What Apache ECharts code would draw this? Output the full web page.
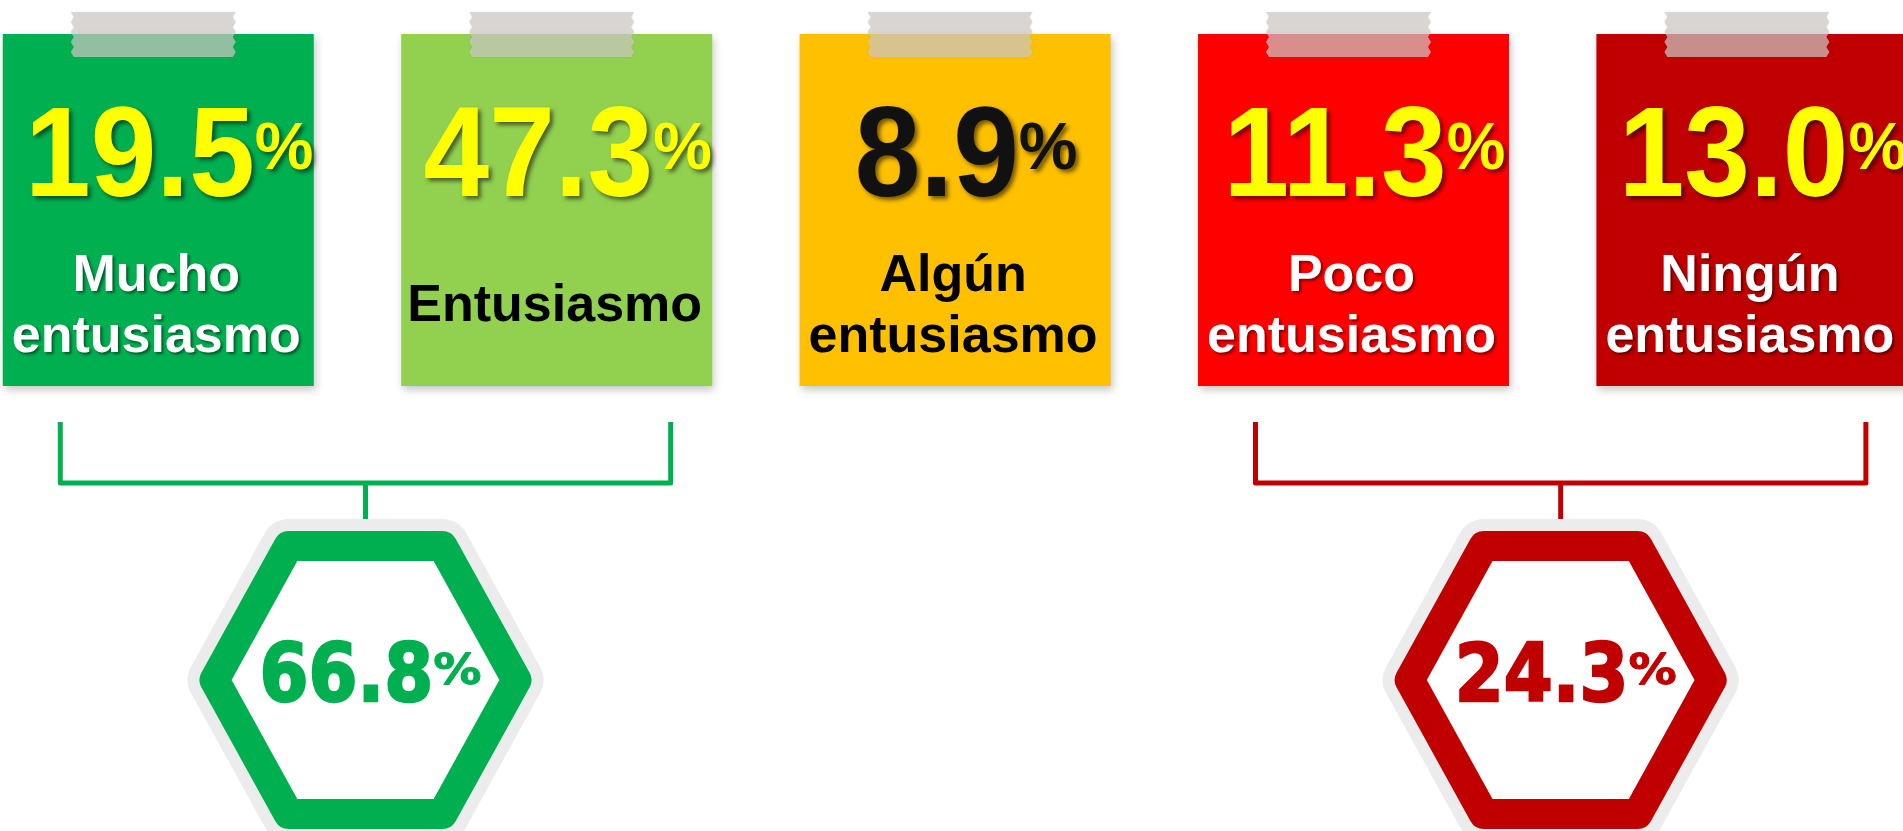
<!DOCTYPE html>
<html>
<head>
<meta charset="utf-8">
<title>Entusiasmo</title>
<script src="https://cdn.jsdelivr.net/npm/echarts@6/dist/echarts.min.js"></script>
<style>
    html, body { margin: 0; padding: 0; background: #fff; }
    #main { width: 1903px; height: 831px; }
</style>
</head>
<body>
<div id="main"></div>
<script>
// datos
const categories = ['Mucho entusiasmo', 'Entusiasmo', 'Algún entusiasmo', 'Poco entusiasmo', 'Ningún entusiasmo'];
const labelLines = [['Mucho', 'entusiasmo'], ['Entusiasmo'], ['Algún', 'entusiasmo'], ['Poco', 'entusiasmo'], ['Ningún', 'entusiasmo']];
const values = [19.5, 47.3, 8.9, 11.3, 13.0];
const groupFirst = [0, 3];
const groupLast = [1, 4];
const groupTotals = [66.8, 24.3];

// colores
const cardColors = ['#00b050', '#92d050', '#ffc000', '#ff0000', '#c00000'];
const numberColors = ['#ffff00', '#ffff00', '#111111', '#ffff00', '#ffff00'];
const labelColors = ['#ffffff', '#000000', '#000000', '#ffffff', '#ffffff'];
const groupColors = ['#00b050', '#c00000'];

const CARD_FONT = '"Liberation Sans", Arial, sans-serif';
const HEX_FONT = '"DejaVu Sans", Verdana, sans-serif';

const chart = echarts.init(document.querySelector('#main'));

const measureCtx = document.createElement('canvas').getContext('2d');
function textWidth(str, font) {
    measureCtx.font = font;
    return measureCtx.measureText(str).width;
}

function renderCard(params, api) {
    const i = api.value(0);
    const v = api.value(1);
    const cx = api.coord([i, 0])[0];
    const top = 34, w = 311, h = 352;
    const children = [];

    children.push({
        type: 'rect',
        shape: { x: cx - w / 2, y: top, width: w, height: h },
        style: { fill: cardColors[i], shadowBlur: 8, shadowOffsetX: 2, shadowOffsetY: 4, shadowColor: 'rgba(0,0,0,0.22)' }
    });

    // cinta adhesiva
    const tx = cx - 5, tw = 165, ty = 12, th = 45, n = 9;
    const pts = [];
    for (let k = 0; k <= n; k++) pts.push([tx - tw / 2 + (k % 2 ? 3 : 0), ty + th * k / n]);
    for (let k = n; k >= 0; k--) pts.push([tx + tw / 2 - (k % 2 ? 3 : 0), ty + th * k / n]);
    children.push({
        type: 'polygon',
        shape: { points: pts },
        style: { fill: 'rgba(208,203,200,0.7)', shadowBlur: 3, shadowColor: 'rgba(0,0,0,0.1)' }
    });

    // porcentaje
    const numStr = v.toFixed(1);
    const numFont = 'bold 118px ' + CARD_FONT;
    const pctFont = 'bold 66px ' + CARD_FONT;
    const wn = textWidth(numStr, numFont);
    const wp = textWidth('%', pctFont);
    const x0 = cx + 11 - (wn + wp) / 2;
    const numShadow = { textShadowColor: 'rgba(0,0,0,0.55)', textShadowBlur: 4, textShadowOffsetX: 3, textShadowOffsetY: 3 };
    children.push({
        type: 'text', x: x0, y: top + 127, scaleY: 1.09,
        style: Object.assign({ text: numStr, font: numFont, fill: numberColors[i], textAlign: 'left', textVerticalAlign: 'middle' }, numShadow)
    });
    children.push({
        type: 'text', x: x0 + wn, y: top + 117,
        style: Object.assign({ text: '%', font: pctFont, fill: numberColors[i], textAlign: 'left', textVerticalAlign: 'middle' }, numShadow)
    });

    // etiqueta
    const lines = labelLines[i];
    const ys = lines.length === 1 ? [top + 273] : [top + 243, top + 304];
    const labShadow = labelColors[i] === '#ffffff'
        ? { textShadowColor: 'rgba(0,0,0,0.5)', textShadowBlur: 3, textShadowOffsetX: 2, textShadowOffsetY: 2 }
        : {};
    lines.forEach((t, k) => {
        children.push({
            type: 'text', x: cx - 2, y: ys[k],
            style: Object.assign({ text: t, font: 'bold 52px ' + CARD_FONT, fill: labelColors[i], textAlign: 'center', textVerticalAlign: 'middle' }, labShadow)
        });
    });

    return { type: 'group', children: children };
}

function renderGroup(params, api) {
    const g = params.dataIndex;
    const xa = api.coord([api.value(0), 0])[0] - 98;
    const xb = api.coord([api.value(1), 0])[0] + 114;
    const xm = (xa + xb) / 2;
    const total = api.value(2);
    const col = groupColors[g];
    const cy = 680;
    const children = [];

    // llave
    children.push({
        type: 'polyline',
        shape: { points: [[xa, 422], [xa, 483], [xb, 483], [xb, 422]] },
        style: { stroke: col, lineWidth: 5, fill: null, lineJoin: 'round' }
    });
    children.push({
        type: 'line',
        shape: { x1: xm, y1: 483, x2: xm, y2: 530 },
        style: { stroke: col, lineWidth: 5 }
    });

    // hexágono
    const hex = [[-151, 0], [-77, -134], [77, -134], [151, 0], [77, 134], [-77, 134]].map(p => [xm + p[0], cy + p[1]]);
    children.push({
        type: 'polygon', shape: { points: hex },
        style: { fill: '#ececec', stroke: '#ececec', lineWidth: 54, lineJoin: 'round' }
    });
    children.push({
        type: 'polygon', shape: { points: hex },
        style: { fill: '#ffffff', stroke: col, lineWidth: 30, lineJoin: 'round' }
    });

    const numStr = total.toFixed(1);
    const numFont = 'bold 80px ' + HEX_FONT;
    const pctFont = 'bold 43px ' + HEX_FONT;
    const sx = 0.88, sp = 1.12;
    const wn = textWidth(numStr, numFont) * sx;
    const wp = textWidth('%', pctFont) * sp;
    const x0 = xm + 5 - (wn + wp) / 2;
    children.push({
        type: 'text', x: x0, y: 680, scaleX: sx,
        style: { text: numStr, font: numFont, fill: col, stroke: col, lineWidth: 2.5, textAlign: 'left', textVerticalAlign: 'middle' }
    });
    children.push({
        type: 'text', x: x0 + wn, y: 673, scaleX: sp,
        style: { text: '%', font: pctFont, fill: col, stroke: col, lineWidth: 1, textAlign: 'left', textVerticalAlign: 'middle' }
    });

    return { type: 'group', children: children };
}

const option = {
    animation: false,
    backgroundColor: '#ffffff',
    grid: { left: 0, right: 0, top: 0, bottom: 0 },
    xAxis: { type: 'value', min: -0.3973, max: 4.3793, show: false },
    yAxis: { type: 'value', min: 0, max: 1, show: false },
    series: [
        {
            name: 'grupos',
            type: 'custom',
            silent: true,
            renderItem: renderGroup,
            data: groupFirst.map((f, k) => [f, groupLast[k], groupTotals[k]])
        },
        {
            name: 'tarjetas',
            type: 'custom',
            silent: true,
            renderItem: renderCard,
            data: values.map((v, i) => ({ name: categories[i], value: [i, v] }))
        }
    ]
};
chart.setOption(option);
</script>
</body>
</html>
